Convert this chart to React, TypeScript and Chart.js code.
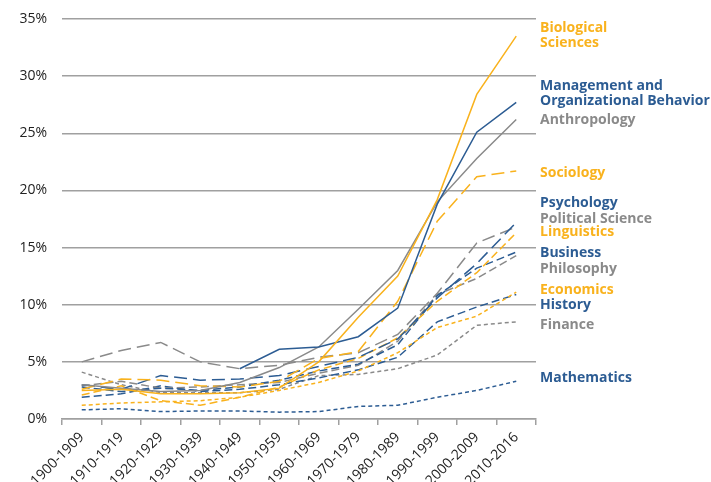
import { useEffect, useRef } from 'react';
import { Chart, registerables } from 'chart.js';

Chart.register(...registerables);

const categories = [
  '1900-1909', '1910-1919', '1920-1929', '1930-1939', '1940-1949', '1950-1959',
  '1960-1969', '1970-1979', '1980-1989', '1990-1999', '2000-2009', '2010-2016',
];

const yTicks = [0, 5, 10, 15, 20, 25, 30, 35];

const biologicalSciences = [2.5, 2.6, 2.2, 2.2, 2.3, 2.7, 5.0, 8.9, 12.5, 19.2, 28.4, 33.5];
const management = [null, null, null, null, 4.4, 6.1, 6.3, 7.2, 9.7, 18.8, 25.1, 27.7];
const anthropology = [3.0, 2.7, 2.4, 2.5, 3.2, 4.5, 6.3, 9.6, 13.0, 19.0, 22.8, 26.2];
const sociology = [2.6, 3.5, 3.4, 2.9, 2.8, 3.3, 5.3, 5.9, 10.3, 17.3, 21.2, 21.7];
const psychology = [3.0, 2.6, 3.8, 3.4, 3.5, 3.8, 4.6, 5.4, 7.0, 10.6, 13.6, 17.2];
const politicalScience = [5.0, 6.0, 6.7, 5.0, 4.4, 4.7, 5.4, 5.8, 7.4, 11.0, 15.4, 16.8];
const linguistics = [2.1, 2.9, 1.6, 1.2, 1.9, 2.8, 4.3, 5.3, 7.1, 10.3, 12.8, 16.3];
const business = [2.8, 2.4, 2.7, 2.5, 2.8, 3.4, 4.2, 4.8, 6.5, 10.8, 13.2, 14.6];
const philosophy = [2.9, 3.3, 2.7, 2.8, 3.0, 3.2, 4.0, 4.7, 6.8, 10.9, 12.3, 14.3];
const economics = [1.2, 1.4, 1.5, 1.6, 1.9, 2.5, 3.2, 4.2, 5.8, 8.0, 9.0, 11.1];
const history = [1.9, 2.2, 2.9, 2.4, 2.6, 3.0, 3.6, 4.3, 5.4, 8.5, 9.8, 10.9];
const finance = [4.1, 3.0, 2.3, 2.3, 2.3, 2.6, 3.8, 3.9, 4.4, 5.6, 8.2, 8.5];
const mathematics = [0.8, 0.9, 0.65, 0.7, 0.7, 0.6, 0.65, 1.1, 1.2, 1.9, 2.5, 3.3];

// value (in %) at which each right-hand label is placed
const labelValues = [34.24, 29.16, 26.18, 21.54, 18.91, 17.51, 16.37, 14.54, 13.13, 11.3, 9.98, 8.23, 3.59];

const GOLD = '#F9B21D';
const BLUE = '#2C5C93';
const GRAY = '#8A8A8A';

const SOLID: number[] = [];
const LONG = [13, 6];
const MED = [8, 4];
const SHORT = [4, 3];

const series = [
  { lines: ['Biological', 'Sciences'], data: biologicalSciences, color: GOLD, dash: SOLID },
  { lines: ['Management and', 'Organizational Behavior'], data: management, color: BLUE, dash: SOLID },
  { lines: ['Anthropology'], data: anthropology, color: GRAY, dash: SOLID },
  { lines: ['Sociology'], data: sociology, color: GOLD, dash: LONG },
  { lines: ['Psychology'], data: psychology, color: BLUE, dash: LONG },
  { lines: ['Political Science'], data: politicalScience, color: GRAY, dash: LONG },
  { lines: ['Linguistics'], data: linguistics, color: GOLD, dash: MED },
  { lines: ['Business'], data: business, color: BLUE, dash: MED },
  { lines: ['Philosophy'], data: philosophy, color: GRAY, dash: MED },
  { lines: ['Economics'], data: economics, color: GOLD, dash: SHORT },
  { lines: ['History'], data: history, color: BLUE, dash: MED },
  { lines: ['Finance'], data: finance, color: GRAY, dash: SHORT },
  { lines: ['Mathematics'], data: mathematics, color: BLUE, dash: SHORT },
];

const endLabels = {
  id: 'endLabels',
  afterDraw(chart: any) {
    const ctx = chart.ctx;
    const y = chart.scales.y;
    const x0 = chart.chartArea.right + 4;
    ctx.save();
    ctx.font = 'bold 14px "Open Sans"';
    ctx.textAlign = 'left';
    ctx.textBaseline = 'middle';
    series.forEach((s, i) => {
      ctx.fillStyle = s.color;
      const py = y.getPixelForValue(labelValues[i]);
      s.lines.forEach((ln, k) => ctx.fillText(ln, x0, py + k * 15.5));
    });
    ctx.restore();
  },
};

export default function App() {
  const ref = useRef<HTMLCanvasElement>(null);
  useEffect(() => {
    document.body.style.margin = '0';
    if (!ref.current) return;
    const chart = new Chart(ref.current, {
      type: 'line',
      data: {
        labels: categories,
        datasets: series.map((s) => ({
          label: s.lines.join(' '),
          data: s.data,
          borderColor: s.color,
          backgroundColor: s.color,
          borderDash: s.dash,
          borderWidth: 1.5,
          pointRadius: 0,
          tension: 0,
          fill: false,
          spanGaps: false,
        })),
      },
      options: {
        responsive: false,
        animation: false,
        layout: { padding: { top: 19, right: 175, left: 0, bottom: 0 } },
        plugins: { legend: { display: false }, tooltip: { enabled: false } },
        scales: {
          x: {
            offset: true,
            afterFit: (s: any) => { s.height = 63; },
            grid: {
              offset: true,
              drawOnChartArea: false,
              drawTicks: true,
              tickLength: 6,
              color: '#A0A0A0',
              lineWidth: 1.5,
            },
            border: { display: true, color: '#A0A0A0', width: 1.5 },
            ticks: {
              maxRotation: 45,
              minRotation: 45,
              autoSkip: false,
              padding: 4,
              color: '#222',
              font: { family: '"Open Sans"', size: 14 },
            },
          },
          y: {
            min: 0,
            max: 35,
            afterFit: (s: any) => { s.width = 62; s.paddingTop = 0; s.paddingBottom = 0; },
            afterBuildTicks: (s: any) => { s.ticks = yTicks.map((v) => ({ value: v })); },
            grid: { color: '#A0A0A0', lineWidth: 1.5, drawTicks: false },
            border: { display: false },
            ticks: {
              padding: 15,
              color: '#222',
              font: { family: '"Open Sans"', size: 14 },
              callback: (v: any) => v + '%',
            },
          },
        },
      },
      plugins: [endLabels],
    });
    return () => chart.destroy();
  }, []);
  return <canvas ref={ref} width={711} height={482} />;
}
